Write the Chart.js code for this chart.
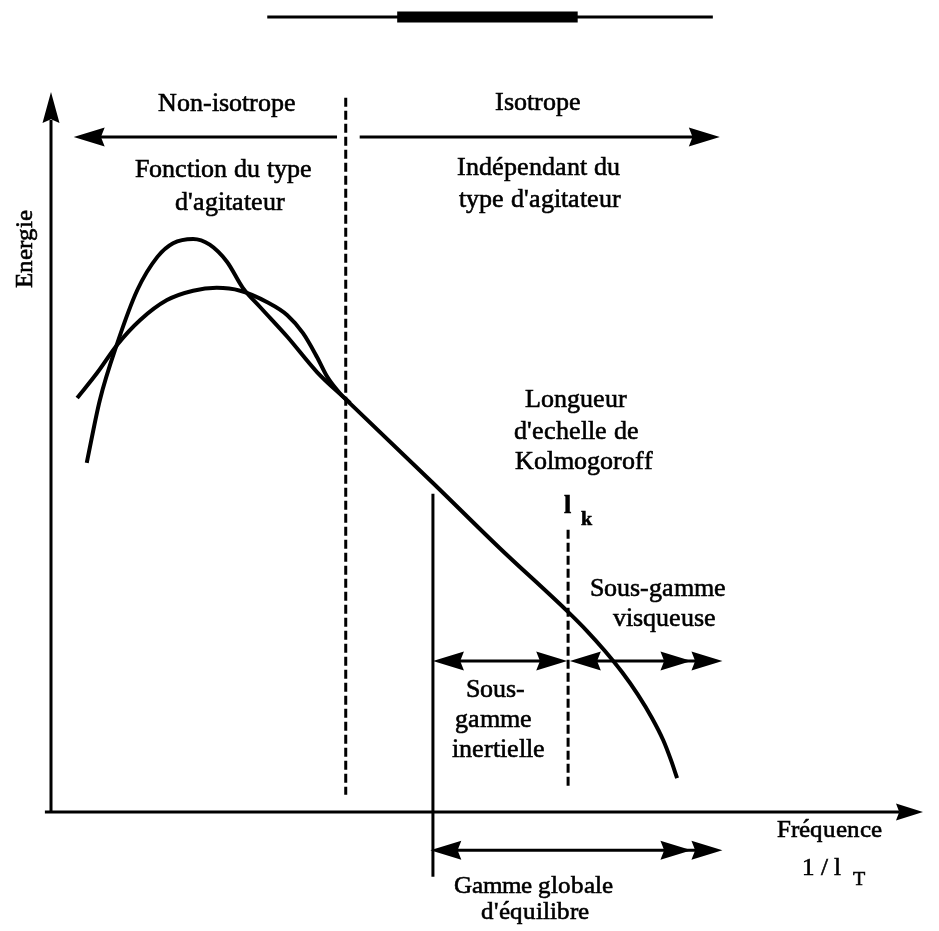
<!DOCTYPE html>
<html>
<head>
<meta charset="utf-8">
<title>Spectre d'énergie</title>
<script src="https://cdn.jsdelivr.net/npm/chart.js@4.4.1/dist/chart.umd.min.js"></script>
<style>
  @font-face {
    font-family: "SchemaSerif";
    src: local("Liberation Serif"), local("LiberationSerif"), local("LiberationSerif-Regular"),
         local("Times New Roman"), local("DejaVu Serif"), local("DejaVuSerif");
    font-weight: normal;
  }
  @font-face {
    font-family: "SchemaSerif";
    src: local("Liberation Serif Bold"), local("LiberationSerif-Bold"),
         local("Times New Roman Bold"), local("DejaVu Serif Bold"), local("DejaVuSerif-Bold");
    font-weight: bold;
  }
  html, body { margin: 0; padding: 0; background: #fff; }
  #wrap { width: 939px; height: 931px; position: relative; }
</style>
</head>
<body>
<div id="wrap"><canvas id="spectre"></canvas></div>
<script>
// Spectre : deux agitateurs (pic étroit / pic large), zone inertielle puis dissipation
const narrowX = [4.1, 5.6, 7.6, 9.9, 12.2, 14.0, 16.3, 18.2, 20.2, 22.0, 24.0, 27.1, 30.5, 33.9, 43.8, 51.5, 59.2, 61.5, 63.5, 65.5, 67.3, 68.9, 70.2, 71.1, 71.8];
const narrowY = [48.5, 57.2, 65.1, 72.5, 77.1, 79.0, 79.6, 78.8, 76.4, 72.8, 70.1, 66.0, 61.1, 57.2, 45.7, 36.6, 27.9, 25.1, 22.4, 19.4, 16.3, 13.1, 10.0, 7.2, 4.7];
const broadX = [3.0, 5.3, 7.6, 10.2, 13.3, 16.3, 19.0, 21.7, 24.8, 27.1, 28.9, 30.5, 31.7, 33.1, 34.3];
const broadY = [57.5, 61.0, 64.9, 68.3, 71.1, 72.4, 72.8, 72.4, 70.8, 69.0, 66.5, 63.2, 60.4, 58.2, 56.8];

// limites verticales : isotropie, échelle de Kolmogoroff, début de l'équilibre
const isoLimitX = [33.8, 33.8];
const isoLimitY = [99.2, 2.4];
const kolmoX = [59.3, 59.3];
const kolmoY = [39.2, 3.5];
const equilX = [43.8, 43.8];
const equilY = [44.2, -9.0];

const toPoints = (xs, ys) => xs.map((x, i) => ({ x, y: ys[i] }));

const FONT = 'SchemaSerif, "Liberation Serif", "Times New Roman", serif';

// flèches : [x0, x1, y, têtes au départ, têtes à l'arrivée]
const arrows = [
  [32.8, 2.6, 93.75, 0, 1],
  [35.4, 76.7, 93.75, 0, 1],
  [43.8, 59.2, 20.97, 1, 1],
  [59.5, 77.0, 20.97, 1, 2],
  [43.5, 77.0, -5.3, 1, 2],
];

// textes : [texte, x, y, taille, gras]
const labels = [
  ["Non-isotrope", 20.2, 98.3, 26],
  ["Isotrope", 55.9, 98.5, 26],
  ["Fonction du type", 19.8, 89.2, 26],
  ["d'agitateur", 20.5, 84.6, 26],
  ["Indépendant du", 55.9, 89.4, 26],
  ["type d'agitateur", 56.1, 85.0, 26],
  ["Longueur", 60.2, 57.2, 26],
  ["d'echelle de", 60.3, 52.8, 26],
  ["Kolmogoroff", 61.1, 48.6, 26],
  ["l", 59.2, 42.4, 26, true],
  ["k", 61.4, 40.6, 20, true],
  ["Sous-gamme", 69.6, 31.0, 26],
  ["visqueuse", 70.3, 26.8, 26],
  ["Sous-", 51.0, 16.9, 26],
  ["gamme", 50.8, 12.8, 26],
  ["inertielle", 51.3, 8.6, 26],
  ["Fréquence", 89.3, -2.5, 25],
  ["1 / l", 88.4, -7.8, 25],
  ["T", 92.7, -9.4, 20],
  ["Gamme globale", 55.3, -10.4, 25],
  ["d'équilibre", 55.5, -13.9, 25],
];

function head(ctx, tx, ty, dx, dy, len, half) {
  const bx = tx - dx * len, by = ty - dy * len;
  ctx.beginPath();
  ctx.moveTo(tx, ty);
  ctx.lineTo(bx - dy * half, by + dx * half);
  ctx.lineTo(bx + dx * len * 0.12, by + dy * len * 0.12);
  ctx.lineTo(bx + dy * half, by - dx * half);
  ctx.closePath();
  ctx.fill();
}

const schema = {
  id: "schema",
  afterDatasetsDraw(chart) {
    const { ctx, scales: { x, y } } = chart;
    const px = (v) => x.getPixelForValue(v);
    const py = (v) => y.getPixelForValue(v);
    ctx.save();
    ctx.fillStyle = "#000";
    ctx.strokeStyle = "#000";
    ctx.lineCap = "butt";

    // axes
    ctx.lineWidth = 3;
    ctx.beginPath();
    ctx.moveTo(px(-0.7), py(0));
    ctx.lineTo(px(100) - 24, py(0));
    ctx.moveTo(px(0), py(0));
    ctx.lineTo(px(0), py(100) + 28);
    ctx.stroke();
    head(ctx, px(100), py(0), 1, 0, 27, 8.5);
    head(ctx, px(0), py(100), 0, -1, 31, 8.5);

    // trait de titre
    ctx.lineWidth = 3;
    ctx.beginPath();
    ctx.moveTo(px(24.8), py(110.4));
    ctx.lineTo(px(75.9), py(110.4));
    ctx.stroke();
    ctx.lineWidth = 11;
    ctx.beginPath();
    ctx.moveTo(px(39.7), py(110.4));
    ctx.lineTo(px(60.4), py(110.4));
    ctx.stroke();

    // flèches de zones
    const len = 31, half = 9.5;
    arrows.forEach(([x0, x1, yv, h0, h1]) => {
      const a = px(x0), b = px(x1), yy = py(yv);
      const dir = Math.sign(b - a);
      ctx.lineWidth = 3;
      ctx.beginPath();
      ctx.moveTo(a + (h0 ? dir * len * 0.8 : 0), yy);
      ctx.lineTo(b - dir * len * 0.8, yy);
      ctx.stroke();
      for (let k = 0; k < h0; k++) head(ctx, a - dir * k * len, yy, -dir, 0, len, half);
      for (let k = 0; k < h1; k++) head(ctx, b - dir * k * len, yy, dir, 0, len, half);
    });

    // textes
    ctx.textAlign = "center";
    ctx.textBaseline = "middle";
    ctx.lineWidth = 0.6;
    labels.forEach(([t, xv, yv, size, bold]) => {
      ctx.font = (bold ? "bold " : "") + size + "px " + FONT;
      ctx.fillText(t, px(xv), py(yv));
      ctx.strokeText(t, px(xv), py(yv));
    });

    ctx.translate(px(-2.98), py(78.2));
    ctx.rotate(-Math.PI / 2);
    ctx.font = "25px " + FONT;
    ctx.fillText("Energie", 0, 0);
    ctx.strokeText("Energie", 0, 0);
    ctx.restore();
  },
};

const curve = (data) => ({
  data, showLine: true, borderColor: "#000", borderWidth: 4,
  pointRadius: 0, cubicInterpolationMode: "monotone", fill: false, clip: false,
});
const vline = (data, dash) => ({
  data, showLine: true, borderColor: "#000", borderWidth: 3,
  borderDash: dash, pointRadius: 0, tension: 0, clip: false,
});

function draw() {
  new Chart(document.getElementById("spectre"), {
    type: "scatter",
    data: {
      datasets: [
        curve(toPoints(narrowX, narrowY)),
        curve(toPoints(broadX, broadY)),
        vline(toPoints(isoLimitX, isoLimitY), [9, 4]),
        vline(toPoints(kolmoX, kolmoY), [9, 4]),
        vline(toPoints(equilX, equilY), []),
      ],
    },
    options: {
      responsive: true,
      maintainAspectRatio: false,
      animation: false,
      layout: { padding: { left: 51, right: 16, top: 92, bottom: 119 } },
      scales: {
        x: { type: "linear", min: 0, max: 100, display: false },
        y: { type: "linear", min: 0, max: 100, display: false },
      },
      plugins: { legend: { display: false }, tooltip: { enabled: false } },
    },
    plugins: [schema],
  });
}

Promise.all([
  document.fonts.load("25px SchemaSerif"),
  document.fonts.load("bold 25px SchemaSerif"),
]).then(draw, draw);
</script>
</body>
</html>
